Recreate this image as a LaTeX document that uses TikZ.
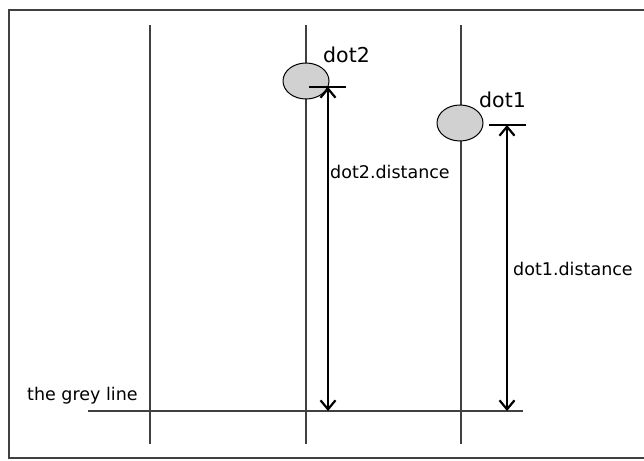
\documentclass[tikz,border=0pt]{standalone}
\usepackage{fontspec}
\setmainfont{DejaVu Sans}
\usetikzlibrary{arrows.meta, positioning, shapes.geometric}

\begin{document}
\begin{tikzpicture}[
      x=1pt, y=-1pt,
      lane/.style = {draw=black!75, line width=1.4pt},
      dot/.style  = {ellipse, draw, line width=1pt, fill=black!18,
                     minimum width=46pt, minimum height=36pt, inner sep=0pt},
      lbl/.style  = {font=\fontsize{17.5}{20}\selectfont, inner sep=0pt, anchor=base west},
      big/.style  = {lbl, font=\fontsize{20.5}{24}\selectfont},
      tick/.style = {line width=1.2pt},
      dist/.style = {{Straight Barb[length=9pt,width=15pt,line width=2.2pt]}-{Straight Barb[length=9pt,width=15pt,line width=2.2pt]},
                     line width=1.4pt}
    ]
    \useasboundingbox (0,0) rectangle (644,460);
    % ramme
    \draw[draw=black!75, line width=2pt] (644,10) -- (9,10) -- (9,458) -- (644,458);
    % lodrette baner
    \foreach \x in {150,306,461}
      \draw[lane] (\x,25) -- (\x,444);
    % den grå linje
    \coordinate (gw) at (88,411);
    \coordinate (ge) at (523,411);
    \draw[lane] (gw) -- (ge);
    \node[lbl] (grey) at (27,400) {the grey line};
    % prikker
    \node[dot] (dot2) at (306,81) {};
    \node[dot] (dot1) at (460,123) {};
    \node[big] (dot2lbl) at (323,62)  {dot2};
    \node[big] (dot1lbl) at (479,107) {dot1};
    % afstande
    \coordinate (t2) at (328,87);
    \coordinate (g2) at (328,411);
    \coordinate (t1) at (507,125);
    \coordinate (g1) at (507,411);
    \draw[tick] ([xshift=-19pt]t2) -- ([xshift=18pt]t2);
    \draw[tick] ([xshift=-18pt]t1) -- ([xshift=19pt]t1);
    \draw[dist] (t2) -- (g2);
    \draw[dist] (t1) -- (g1);
    \node[lbl] (d2dist) at (330,178) {dot2.distance};
    \node[lbl] (d1dist) at (513,275) {dot1.distance};
  \end{tikzpicture}
\end{document}
